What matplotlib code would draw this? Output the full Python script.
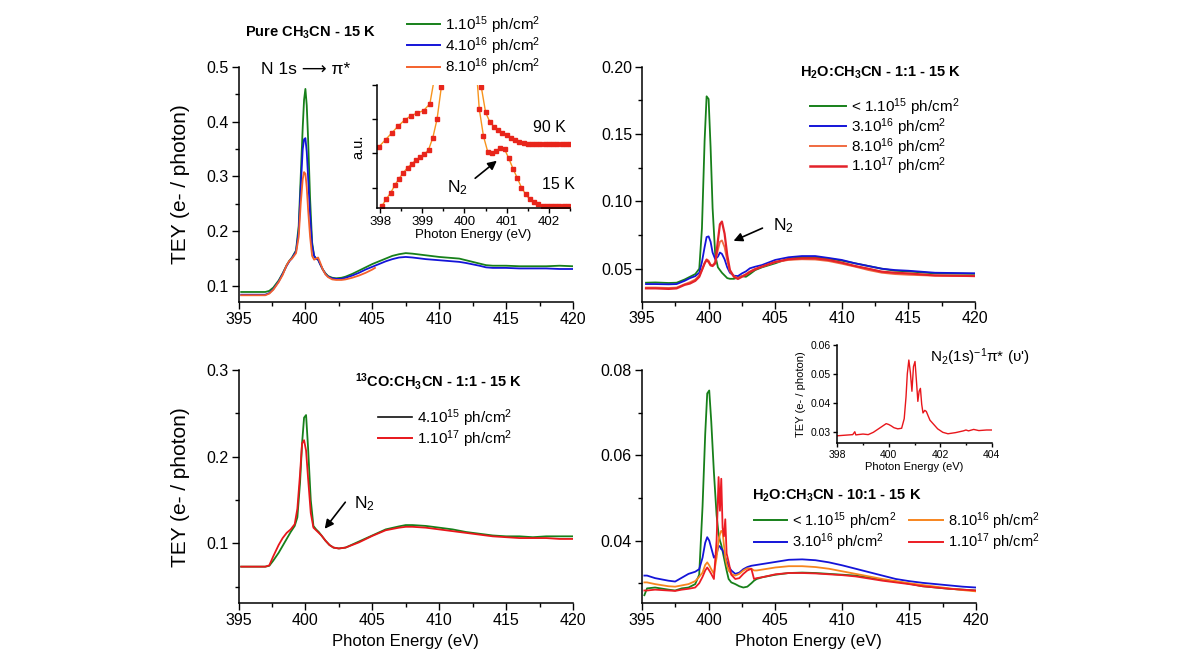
import matplotlib
matplotlib.use("Agg")
import matplotlib.pyplot as plt
from matplotlib.ticker import MultipleLocator, NullFormatter
from matplotlib.lines import Line2D

plt.rcParams["font.family"] = ["Liberation Sans", "DejaVu Sans"]
plt.rcParams["mathtext.fontset"] = "custom"
plt.rcParams["mathtext.rm"] = "Liberation Sans"
plt.rcParams["mathtext.it"] = "Liberation Sans:italic"
plt.rcParams["mathtext.bf"] = "Liberation Sans:bold"
plt.rcParams["mathtext.default"] = "regular"

# ---------------- data ----------------
# panel A : pure CH3CN
ea = [395.2, 396, 397, 397.3, 397.6, 398.0, 398.3, 398.6, 398.8, 399.0, 399.3, 399.5, 399.65,
      399.8, 399.9, 400.0, 400.1, 400.2, 400.35, 400.5, 400.65, 400.8, 400.95, 401.1, 401.3,
      401.5, 401.7, 402.0, 402.3, 402.7, 403.0, 403.5, 404, 404.5, 405, 405.5, 406, 406.5, 407,
      407.5, 408, 409, 410, 411, 411.5, 412, 413, 413.5, 414, 415, 416, 417, 418, 419, 420]
a_green = [0.089, 0.089, 0.089, 0.091, 0.097, 0.110, 0.123, 0.138, 0.146, 0.152, 0.165, 0.21, 0.30,
           0.39, 0.44, 0.46, 0.43, 0.37, 0.26, 0.18, 0.155, 0.150, 0.148, 0.140, 0.130,
           0.123, 0.118, 0.115, 0.114, 0.115, 0.117, 0.122, 0.128, 0.134, 0.140, 0.145, 0.150, 0.155, 0.158,
           0.160, 0.159, 0.156, 0.153, 0.151, 0.150, 0.147, 0.141, 0.138, 0.137, 0.137, 0.136, 0.136, 0.136, 0.137, 0.136]
a_blue = [0.084, 0.084, 0.084, 0.087, 0.094, 0.108, 0.122, 0.137, 0.145, 0.151, 0.163, 0.20, 0.28,
          0.35, 0.368, 0.370, 0.345, 0.30, 0.23, 0.175, 0.155, 0.150, 0.148, 0.140, 0.130,
          0.122, 0.117, 0.114, 0.113, 0.113, 0.115, 0.119, 0.124, 0.130, 0.135, 0.140, 0.145, 0.149, 0.152,
          0.153, 0.152, 0.149, 0.147, 0.145, 0.144, 0.142, 0.137, 0.134, 0.133, 0.133, 0.132, 0.132, 0.132, 0.131, 0.131]
ea_or = [395.2, 396, 397, 397.3, 397.6, 398.0, 398.3, 398.6, 398.8, 399.0, 399.3, 399.5, 399.65,
         399.8, 399.9, 400.0, 400.1, 400.2, 400.35, 400.5, 400.65, 400.8, 400.95, 401.1, 401.3,
         401.5, 401.7, 402.0, 402.3, 402.7, 403.0, 403.5, 404, 404.5, 405, 405.2]
a_orange = [0.083, 0.083, 0.083, 0.086, 0.093, 0.107, 0.120, 0.138, 0.146, 0.150, 0.160, 0.19, 0.25,
            0.295, 0.308, 0.305, 0.28, 0.24, 0.19, 0.155, 0.148, 0.150, 0.152, 0.143, 0.130,
            0.121, 0.116, 0.112, 0.111, 0.111, 0.112, 0.115, 0.119, 0.124, 0.130, 0.133]

# inset of panel A (arbitrary units)
in15_x = [398.05, 398.15, 398.25, 398.35, 398.45, 398.55, 398.65, 398.75, 398.85, 398.95,
          399.05, 399.15, 399.25, 399.35, 399.45, 399.55]
in15_y = [-0.53, -0.33, -0.16, 0.07, 0.26, 0.43, 0.58, 0.69, 0.80, 0.89, 0.97, 1.11, 1.46, 2.0, 2.93, 4.0]
in15r_x = [400.25, 400.35, 400.45, 400.55, 400.65, 400.75, 400.85, 400.95, 401.05, 401.15, 401.25,
           401.35, 401.45, 401.55, 401.65, 401.75, 401.85, 401.95, 402.05, 402.15, 402.25, 402.35, 402.45]
in15r_y = [4.0, 2.3, 1.5, 1.05, 1.0, 1.08, 1.15, 1.12, 0.85, 0.55, 0.28, 0.0, -0.2, -0.35, -0.43,
           -0.49, -0.53, -0.54, -0.54, -0.54, -0.54, -0.54, -0.54]
in90_x = [397.98, 398.13, 398.28, 398.43, 398.58, 398.73, 398.88, 399.03, 399.18, 399.33]
in90_y = [1.2, 1.4, 1.6, 1.8, 1.97, 2.1, 2.18, 2.25, 2.45, 3.5]
in90r_x = [400.3, 400.4, 400.5, 400.6, 400.7, 400.8, 400.9, 401.0, 401.1, 401.2, 401.3, 401.4,
           401.5, 401.6, 401.7, 401.8, 401.9, 402.0, 402.1, 402.2, 402.3, 402.4, 402.5]
in90r_y = [3.6, 2.93, 2.2, 1.92, 1.78, 1.67, 1.6, 1.53, 1.46, 1.39, 1.33, 1.3, 1.28, 1.27, 1.27,
           1.27, 1.27, 1.27, 1.27, 1.27, 1.27, 1.27, 1.27]

# panel B : H2O:CH3CN 1:1
eb = [395.3, 396, 397, 397.6, 398.2, 398.6, 399.0, 399.3, 399.5, 399.7, 399.85, 400.0, 400.15,
      400.3, 400.5, 400.7, 400.85, 401.0, 401.2, 401.4, 401.6, 401.9, 402.2, 402.5, 402.8, 403.1,
      403.5, 404, 405, 406, 407, 408, 409, 410, 411, 412, 413, 414, 415, 417, 420]
b_green = [0.0396, 0.0398, 0.0394, 0.0396, 0.042, 0.044, 0.046, 0.050, 0.080, 0.145, 0.178, 0.176, 0.140,
           0.095, 0.060, 0.051, 0.049, 0.047, 0.045, 0.043, 0.0425, 0.0425, 0.0435, 0.0445, 0.044, 0.046,
           0.049, 0.051, 0.054, 0.0575, 0.0585, 0.0585, 0.0575, 0.056, 0.054, 0.052, 0.050, 0.0485, 0.048, 0.0465, 0.0462]
b_blue = [0.0386, 0.0386, 0.0384, 0.0386, 0.041, 0.043, 0.0445, 0.047, 0.055, 0.066, 0.0735, 0.074, 0.070,
          0.062, 0.057, 0.059, 0.062, 0.061, 0.057, 0.051, 0.047, 0.0448, 0.0445, 0.0465, 0.048, 0.0503,
          0.0515, 0.0527, 0.0565, 0.0585, 0.0594, 0.0594, 0.058, 0.0565, 0.054, 0.052, 0.050, 0.049, 0.0485, 0.047, 0.0466]
b_orange = [0.036, 0.036, 0.0357, 0.036, 0.0385, 0.040, 0.042, 0.045, 0.049, 0.054, 0.057, 0.056, 0.053,
            0.0525, 0.055, 0.064, 0.070, 0.071, 0.066, 0.056, 0.048, 0.0445, 0.043, 0.0445, 0.046, 0.048,
            0.050, 0.0515, 0.0548, 0.0565, 0.057, 0.0568, 0.0557, 0.0537, 0.0515, 0.049, 0.047, 0.046, 0.0455, 0.0448, 0.0444]
b_red = [0.0354, 0.0354, 0.035, 0.0354, 0.038, 0.039, 0.041, 0.044, 0.049, 0.054, 0.0565, 0.055, 0.0525,
         0.052, 0.054, 0.071, 0.083, 0.085, 0.076, 0.060, 0.049, 0.044, 0.0424, 0.044, 0.0455, 0.0475,
         0.0495, 0.0515, 0.055, 0.057, 0.0577, 0.0577, 0.0565, 0.0545, 0.052, 0.050, 0.0478, 0.047, 0.0465, 0.045, 0.0446]

# panel C : 13CO:CH3CN 1:1
ec = [395.2, 396, 397, 397.3, 397.6, 398.0, 398.3, 398.6, 398.9, 399.2, 399.4, 399.6, 399.75, 399.9,
      400.05, 400.2, 400.4, 400.6, 400.8, 401.0, 401.2, 401.5, 401.8, 402.1, 402.5, 403, 404, 405,
      406, 407, 407.5, 408, 409, 410, 411, 412, 413, 414, 415, 416, 417, 418, 419, 420]
c_red = [0.073, 0.073, 0.073, 0.0745, 0.085, 0.098, 0.106, 0.112, 0.116, 0.122, 0.140, 0.180, 0.215, 0.219,
         0.207, 0.175, 0.135, 0.118, 0.115, 0.112, 0.109, 0.103, 0.098, 0.095, 0.094, 0.095, 0.101, 0.1085,
         0.115, 0.118, 0.119, 0.119, 0.118, 0.116, 0.114, 0.112, 0.110, 0.108, 0.107, 0.106, 0.106, 0.106, 0.105, 0.105]
c_green = [0.073, 0.073, 0.073, 0.074, 0.080, 0.089, 0.097, 0.105, 0.113, 0.120, 0.130, 0.170, 0.215, 0.245,
           0.248, 0.210, 0.150, 0.120, 0.116, 0.113, 0.109, 0.103, 0.098, 0.095, 0.094, 0.095, 0.102, 0.109,
           0.116, 0.1195, 0.121, 0.121, 0.120, 0.118, 0.116, 0.113, 0.111, 0.109, 0.108, 0.108, 0.107, 0.108, 0.108, 0.108]

# panel D : H2O:CH3CN 10:1
ed = [395.2, 395.4, 396, 397, 397.5, 398, 398.5, 399, 399.3, 399.55, 399.75, 399.9, 400.05, 400.2,
      400.4, 400.6, 400.75, 400.85, 400.95, 401.05, 401.15, 401.25, 401.35, 401.5, 401.7, 402.0,
      402.3, 402.6, 402.9, 403.2, 403.4, 403.6, 404, 405, 406, 407, 408, 409, 410, 411, 412, 413,
      414, 415, 416, 417, 418, 419, 420]
d_green = [0.0272, 0.0288, 0.029, 0.0285, 0.0283, 0.0288, 0.029, 0.0298, 0.032, 0.048, 0.065, 0.0745, 0.0752, 0.068,
           0.056, 0.046, 0.0415, 0.040, 0.039, 0.0375, 0.036, 0.0345, 0.033, 0.031, 0.0302, 0.0298,
           0.0293, 0.029, 0.0292, 0.030, 0.0306, 0.031, 0.0314, 0.032, 0.0324, 0.0325, 0.0324, 0.0322, 0.032, 0.0318, 0.0313, 0.0308,
           0.0304, 0.0299, 0.0293, 0.029, 0.0287, 0.0285, 0.0283]
d_blue = [0.0318, 0.0318, 0.0312, 0.0306, 0.0304, 0.0313, 0.0322, 0.0327, 0.0333, 0.036, 0.0395, 0.0408, 0.040, 0.0383,
          0.036, 0.0368, 0.0388, 0.0386, 0.038, 0.0378, 0.037, 0.0361, 0.0352, 0.034, 0.033, 0.0322,
          0.0325, 0.0333, 0.0338, 0.0341, 0.0342, 0.0343, 0.0345, 0.035, 0.0355, 0.0356, 0.0354, 0.0349, 0.0342, 0.0334, 0.0326, 0.0318,
          0.031, 0.0305, 0.0301, 0.0298, 0.0295, 0.0292, 0.029]
d_orange = [0.0302, 0.0302, 0.0298, 0.0293, 0.0292, 0.0295, 0.0298, 0.0305, 0.0315, 0.0325, 0.0343, 0.0349, 0.0342, 0.0333,
            0.0322, 0.036, 0.040, 0.0415, 0.0423, 0.042, 0.039, 0.0361, 0.0345, 0.033, 0.0322, 0.0318,
            0.0322, 0.033, 0.0335, 0.0334, 0.033, 0.033, 0.0332, 0.0337, 0.034, 0.034, 0.0338, 0.0334, 0.0328, 0.0322, 0.0316, 0.031,
            0.0305, 0.030, 0.0296, 0.0292, 0.0288, 0.0284, 0.0281]
d_red = [0.0283, 0.0283, 0.0285, 0.0283, 0.0282, 0.0285, 0.0287, 0.029, 0.030, 0.0315, 0.033, 0.0337, 0.033, 0.0322,
         0.031, 0.040, 0.0549, 0.047, 0.0545, 0.043, 0.041, 0.045, 0.037, 0.035, 0.032, 0.031,
         0.0312, 0.0322, 0.033, 0.0334, 0.031, 0.0312, 0.0314, 0.0321, 0.0324, 0.0324, 0.0323, 0.0321, 0.0319, 0.0316, 0.0311, 0.0306,
         0.0302, 0.0298, 0.0293, 0.029, 0.0287, 0.0285, 0.0283]

# inset of panel D : N2 vibrational structure
ei = [398.0, 398.3, 398.6, 398.68, 398.72, 398.8, 399.0, 399.2, 399.4, 399.6, 399.8, 399.9, 400.0,
      400.1, 400.2, 400.35, 400.5, 400.6, 400.67, 400.72, 400.78, 400.84, 400.9, 400.96, 401.02,
      401.08, 401.13, 401.18, 401.23, 401.28, 401.33, 401.4, 401.46, 401.52, 401.6, 401.75, 401.9,
      402.1, 402.3, 402.6, 402.9, 403.0, 403.1, 403.3, 403.5, 403.8, 404.0]
i_red = [0.0286, 0.0288, 0.029, 0.030, 0.0289, 0.029, 0.0292, 0.029, 0.0298, 0.031, 0.0322, 0.0328, 0.0325,
         0.032, 0.0314, 0.031, 0.0312, 0.0345, 0.042, 0.050, 0.0548, 0.0505, 0.044, 0.0525, 0.0543,
         0.047, 0.0405, 0.044, 0.045, 0.0395, 0.0365, 0.0374, 0.037, 0.0357, 0.034, 0.0325, 0.031,
         0.0298, 0.0293, 0.0297, 0.0303, 0.0306, 0.0303, 0.0308, 0.0304, 0.0306, 0.0306]

GREEN = "#17801a"
BLUE = "#1414d8"
RED = "#e8161b"

W, H = 1200, 668
fig = plt.figure(figsize=(W / 100, H / 100), dpi=100)


def box(l, t, r, b):
    return [l / W, 1 - b / H, (r - l) / W, (b - t) / H]


def ftxt(x, y, s, **kw):
    fig.text(x / W, 1 - y / H, s, **kw)


def key(x0, x1, y, color, label, fs=11, lw=1.4):
    fig.add_artist(Line2D([x0 / W, x1 / W], [1 - y / H, 1 - y / H], color=color, lw=lw,
                          transform=fig.transFigure))
    ftxt(x1 + 5, y + 5.5, label, fontsize=fs, va="baseline", ha="left")


def arrow(x0, y0, x1, y1):
    fig.add_artist(matplotlib.patches.FancyArrowPatch(
        (x0 / W, 1 - y0 / H), (x1 / W, 1 - y1 / H), transform=fig.transFigure,
        arrowstyle="-|>", mutation_scale=13, color="k", lw=1.2))


def style(ax, xmaj, xmin, ymaj, ymin, fs=11.5, tl=5):
    for s in ("top", "right"):
        ax.spines[s].set_visible(False)
    for s in ("left", "bottom"):
        ax.spines[s].set_linewidth(1.1)
    ax.xaxis.set_major_locator(MultipleLocator(xmaj))
    ax.xaxis.set_minor_locator(MultipleLocator(xmin))
    ax.yaxis.set_major_locator(MultipleLocator(ymaj))
    if ymin:
        ax.yaxis.set_minor_locator(MultipleLocator(ymin))
    ax.tick_params(which="major", direction="out", length=tl, width=1, labelsize=fs, pad=2)
    ax.tick_params(which="minor", direction="out", length=tl * 0.6, width=1)


# ---------------- panel A ----------------
axA = fig.add_axes(box(238.5, 67, 573, 302))
axA.plot(ea, a_green, color=GREEN, lw=1.3)
axA.plot(ea, a_blue, color=BLUE, lw=1.3)
axA.plot(ea_or, a_orange, color="#f4612c", lw=1.3)
axA.set_xlim(395, 420)
axA.set_ylim(0.0707, 0.5)
style(axA, 5, 2.5, 0.1, 0.05)
axA.set_ylabel("TEY (e- / photon)", fontsize=15, labelpad=12)
ftxt(245, 33, r"Pure CH$_\mathbf{3}$CN - 15 K", fontsize=10.5, fontweight="bold", va="center")
ftxt(261, 70, "N 1s \u27f6 \u03c0*", fontsize=12.5, va="center")
key(407, 440, 24, GREEN, r"1.10$^{15}$ ph/cm$^{2}$")
key(407, 440, 45.3, BLUE, r"4.10$^{16}$ ph/cm$^{2}$")
key(407, 440, 66.7, "#f4612c", r"8.10$^{16}$ ph/cm$^{2}$")

# inset A
axI = fig.add_axes(box(376.7, 85, 570, 208))
for xs, ys in ((in15_x, in15_y), (in15r_x, in15r_y), (in90_x, in90_y), (in90r_x, in90r_y)):
    axI.plot(xs, ys, color="#f7941d", lw=1.0, marker="s", markersize=3.0,
             markerfacecolor="#e8251b", markeredgecolor="#e8251b")
axI.set_xlim(397.92, 402.5)
axI.set_ylim(-0.6, 3.0)
style(axI, 1, 0.5, 1, None, fs=9.5, tl=3.5)
axI.yaxis.set_major_formatter(NullFormatter())
axI.set_xlabel("Photon Energy (eV)", fontsize=9.5, labelpad=1)
axI.set_ylabel("a.u.", fontsize=10.5, labelpad=3)
ftxt(533, 127, "90 K", fontsize=11.5, va="center")
ftxt(542, 185, "15 K", fontsize=11.5, va="center")
ftxt(447, 192, r"N$_2$", fontsize=12.5, va="baseline")
arrow(473, 180, 499, 159)

# ---------------- panel B ----------------
axB = fig.add_axes(box(642, 66.7, 975, 301.7))
axB.plot(eb, b_green, color=GREEN, lw=1.3)
axB.plot(eb, b_blue, color=BLUE, lw=1.3)
axB.plot(eb, b_orange, color="#f06a40", lw=1.3)
axB.plot(eb, b_red, color="#e3222a", lw=1.6)
axB.set_xlim(395, 420)
axB.set_ylim(0.0255, 0.20)
style(axB, 5, 2.5, 0.05, 0.025)
axB.yaxis.set_major_formatter(matplotlib.ticker.FormatStrFormatter("%.2f"))
ftxt(800, 73, r"H$_\mathbf{2}$O:CH$_\mathbf{3}$CN - 1:1 - 15 K", fontsize=10.5, fontweight="bold", va="center")
key(810, 846, 106, GREEN, r"< 1.10$^{15}$ ph/cm$^{2}$")
key(810, 846, 126, BLUE, r"3.10$^{16}$ ph/cm$^{2}$")
key(810, 846, 146, "#f06a40", r"8.10$^{16}$ ph/cm$^{2}$")
key(810, 846, 166, "#e3222a", r"1.10$^{17}$ ph/cm$^{2}$", lw=1.8)
ftxt(773, 230, r"N$_2$", fontsize=12.5, va="baseline")
arrow(765, 227, 731, 242)

# ---------------- panel C ----------------
axC = fig.add_axes(box(238.5, 370, 573, 603.3))
axC.plot(ec, c_green, color=GREEN, lw=1.3)
axC.plot(ec, c_red, color=RED, lw=1.3)
axC.set_xlim(395, 420)
axC.set_ylim(0.0307, 0.30)
style(axC, 5, 2.5, 0.1, 0.05)
axC.set_ylabel("TEY (e- / photon)", fontsize=15, labelpad=12)
axC.set_xlabel("Photon Energy (eV)", fontsize=12, labelpad=4)
ftxt(355, 382, r"$^\mathbf{13}$CO:CH$_\mathbf{3}$CN - 1:1 - 15 K", fontsize=10.5, fontweight="bold", va="center")
key(378, 412, 417.3, "#111111", r"4.10$^{15}$ ph/cm$^{2}$", lw=1.2)
key(378, 412, 438.3, RED, r"1.10$^{17}$ ph/cm$^{2}$")
ftxt(354, 508, r"N$_2$", fontsize=12.5, va="baseline")
arrow(347, 500, 323, 531)

# ---------------- panel D ----------------
axD = fig.add_axes(box(641.7, 370, 976, 603.3))
axD.plot(ed, d_green, color=GREEN, lw=1.3)
axD.plot(ed, d_blue, color=BLUE, lw=1.3)
axD.plot(ed, d_orange, color="#f7851e", lw=1.3)
axD.plot(ed, d_red, color="#ec1c24", lw=1.3)
axD.set_xlim(395, 420)
axD.set_ylim(0.0253, 0.08)
style(axD, 5, 2.5, 0.02, 0.01)
axD.yaxis.set_major_formatter(matplotlib.ticker.FormatStrFormatter("%.2f"))
axD.set_xlabel("Photon Energy (eV)", fontsize=12, labelpad=4)
ftxt(752, 496, r"H$_\mathbf{2}$O:CH$_\mathbf{3}$CN - 10:1 - 15 K", fontsize=10.5, fontweight="bold", va="center")
key(754, 787, 520, GREEN, r"< 1.10$^{15}$ ph/cm$^{2}$", fs=10.5)
key(754, 787, 541.5, BLUE, r"3.10$^{16}$ ph/cm$^{2}$", fs=10.5)
key(909, 943, 520, "#f7851e", r"8.10$^{16}$ ph/cm$^{2}$", fs=10.5)
key(909, 943, 541.5, "#ec1c24", r"1.10$^{17}$ ph/cm$^{2}$", fs=10.5)

# inset D
axJ = fig.add_axes(box(837.3, 345, 991.7, 443.3))
axJ.plot(ei, i_red, color=RED, lw=1.0)
axJ.set_xlim(398, 404)
axJ.set_ylim(0.026, 0.06)
style(axJ, 2, 1, 0.01, None, fs=7.5, tl=3)
axJ.yaxis.set_major_formatter(matplotlib.ticker.FormatStrFormatter("%.2f"))
axJ.set_xlabel("Photon Energy (eV)", fontsize=8, labelpad=1)
axJ.set_ylabel("TEY (e- / photon)", fontsize=8, labelpad=3)
ftxt(930, 362, "N$_2$(1s)$^{-1}$\u03c0* (\u03c5')", fontsize=11, va="baseline")

fig.savefig("out.png", dpi=100)
